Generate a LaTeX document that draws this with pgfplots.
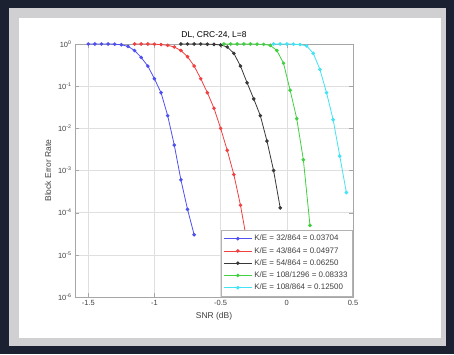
\documentclass[border=0pt]{standalone}
\usepackage{pgfplots}
\pgfplotsset{compat=1.18}
\usepackage{fontspec}
\setmainfont{Liberation Sans}
\definecolor{darkbg}{HTML}{1C2131}
\definecolor{framegray}{HTML}{D0D0D2}
\definecolor{mblue}{HTML}{5050F0}
\definecolor{mred}{HTML}{F04040}
\definecolor{mblack}{HTML}{383838}
\definecolor{mgreen}{HTML}{40D040}
\definecolor{mcyan}{HTML}{40E4F4}
\begin{document}
\begin{tikzpicture}[x=1bp,y=1bp]
\fill[darkbg] (0,0) rectangle (454,354);
\fill[framegray] (9,8) rectangle (446,346);
\fill[white] (19,16) rectangle (441,336);
\begin{axis}[
  at={(75bp,57bp)}, anchor=south west,
  scale only axis, width=278bp, height=253bp,
  xmin=-1.6, xmax=0.5, ymin=1e-6, ymax=1,
  ymode=log,
  xtick={-1.5,-1,-0.5,0,0.5},
  xticklabels={-1.5,-1,-0.5,0,0.5},
  ytick={1e-6,1e-5,1e-4,1e-3,1e-2,1e-1,1},
  yticklabels={10\textsuperscript{-6},10\textsuperscript{-5},10\textsuperscript{-4},10\textsuperscript{-3},10\textsuperscript{-2},10\textsuperscript{-1},10\textsuperscript{0}},
  yminorticks=false,
  grid=major,
  major grid style={gray!25},
  axis line style={gray!70},
  tick style={gray!70},
  tick align=inside,
  ticklabel style={font=\fontsize{7.5}{8}\selectfont, text=black!75},
  title={DL, CRC-24, L=8},
  title style={font=\fontsize{8.5}{9}\selectfont, yshift=-4bp},
  xlabel={SNR (dB)},
  ylabel={Block Error Rate},
  label style={font=\fontsize{8.5}{9}\selectfont, text=black!75},
  every mark/.append style={solid},
  legend cell align=left,
  legend style={at={(0.997,0.004)}, anchor=south east, font=\fontsize{8}{9}\selectfont, draw=gray!60, inner sep=2.5bp, row sep=1bp, text=black!75},
  legend image code/.code={\draw[mark repeat=2,mark phase=2,#1] plot coordinates {(0cm,0cm) (0.5cm,0cm) (1.0cm,0cm)};},
]
\addplot[mblue, line width=0.8pt, mark=*, mark size=1.4pt] coordinates {
(-1.5,1)(-1.45,1)(-1.4,1)(-1.35,1)(-1.3,0.99)(-1.25,0.96)(-1.2,0.88)(-1.15,0.7)(-1.1,0.48)(-1.05,0.3)(-1.0,0.15)(-0.95,0.07)(-0.9,0.02)(-0.85,0.004)(-0.8,6e-4)(-0.75,1.2e-4)(-0.7,3e-5)};
\addlegendentry{K/E = 32/864 = 0.03704}
\addplot[mred, line width=0.8pt, mark=*, mark size=1.4pt] coordinates {
(-1.15,1)(-1.1,1)(-1.05,1)(-1.0,0.99)(-0.95,0.97)(-0.9,0.93)(-0.85,0.85)(-0.8,0.7)(-0.75,0.5)(-0.7,0.3)(-0.65,0.15)(-0.6,0.07)(-0.55,0.03)(-0.5,0.01)(-0.45,3e-3)(-0.4,8e-4)(-0.35,1.5e-4)(-0.3,2e-5)};
\addlegendentry{K/E = 43/864 = 0.04977}
\addplot[mblack, line width=0.8pt, mark=*, mark size=1.4pt] coordinates {
(-0.8,1)(-0.75,1)(-0.7,1)(-0.65,1)(-0.6,0.99)(-0.55,0.98)(-0.5,0.95)(-0.45,0.85)(-0.4,0.6)(-0.35,0.3)(-0.3,0.12)(-0.25,0.05)(-0.2,0.02)(-0.15,5e-3)(-0.1,1e-3)(-0.05,1.3e-4)};
\addlegendentry{K/E = 54/864 = 0.06250}
\addplot[mgreen, line width=0.8pt, mark=*, mark size=1.4pt] coordinates {
(-0.475,1)(-0.425,1)(-0.375,1)(-0.325,1)(-0.275,1)(-0.225,0.99)(-0.175,0.98)(-0.125,0.93)(-0.075,0.7)(-0.025,0.35)(0.025,0.08)(0.075,0.017)(0.125,1.8e-3)(0.175,5e-5)};
\addlegendentry{K/E = 108/1296 = 0.08333}
\addplot[mcyan, line width=0.8pt, mark=*, mark size=1.4pt] coordinates {
(-0.1,1)(-0.05,1)(0,1)(0.05,0.99)(0.1,0.97)(0.15,0.9)(0.2,0.6)(0.25,0.25)(0.3,0.07)(0.35,0.016)(0.4,2.2e-3)(0.45,3e-4)};
\addlegendentry{K/E = 108/864 = 0.12500}
\end{axis}
\end{tikzpicture}
\end{document}
